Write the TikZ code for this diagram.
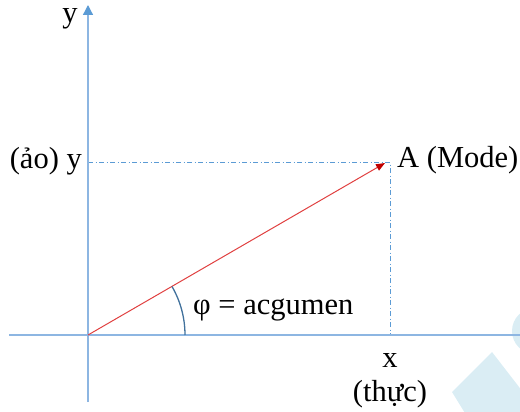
\documentclass[tikz,border=0pt]{standalone}
\usepackage{fontspec}
\setmainfont{Liberation Serif}
\usetikzlibrary{arrows.meta}
\definecolor{axisblue}{RGB}{141,182,226}
\definecolor{tipblue}{RGB}{91,155,213}
\definecolor{dotblue}{RGB}{91,155,213}
\definecolor{arcblue}{RGB}{65,113,156}
\definecolor{vecred}{RGB}{224,64,64}
\definecolor{tipred}{RGB}{192,0,0}
\definecolor{wmark}{RGB}{218,237,244}
\tikzset{
  axisline/.style={draw=axisblue, line width=1.3pt},
  guideline/.style={draw=dotblue, line width=0.9pt, dash pattern=on 5pt off 2.5pt on 1pt off 2.5pt},
  vecline/.style={draw=vecred, line width=1pt},
  lbl/.style={inner sep=0pt, font=\fontsize{30.5}{36}\selectfont}
}
\begin{document}
\begin{tikzpicture}[x=1pt,y=-1pt]
\useasboundingbox (0,0) rectangle (520,412);
\clip (0,0) rectangle (520,412);
% watermark
\fill[wmark] (535,331) circle[radius=23pt];
\fill[wmark] (492,352) -- (560,440) -- (500,470) -- (452,392) -- cycle;
% points
\coordinate (O) at (88,335);
\coordinate (ytop) at (88,5);
\coordinate (ybot) at (88,402);
\coordinate (xl) at (9,335);
\coordinate (xr) at (520,335);
\coordinate (A) at (385,163);
\coordinate (C) at (390,162);
\coordinate (Cy) at (88,162);
\coordinate (Cx) at (390,335);
% guides
\draw[guideline] (Cy) -- (C) -- (Cx);
% axes
\draw[axisline] (xl) -- (xr);
\draw[axisline, -{Triangle[width=10pt,length=10pt,color=tipblue]}] (ybot) -- (ytop);
% vector
\draw[vecline, -{Triangle[width=7pt,length=9pt,color=tipred]}] (O) -- (A);
% angle arc
\draw[arcblue, line width=1.3pt] (O) ++(0:97) arc[start angle=0, end angle=-30, radius=97];
% labels
\node[lbl, anchor=base] (ylab) at (70,23) {y};
\node[lbl, anchor=base east] (yim) at (82,168) {(ảo) y};
\node[lbl, anchor=base west] (Alab) at (397,167) {A (Mode)};
\node[lbl, anchor=base west] (phi) at (193,314) {φ = acgumen};
\node[lbl, anchor=base] (xlab) at (390,367) {x};
\node[lbl, anchor=base] (xre) at (390,401) {(thực)};
\end{tikzpicture}
\end{document}
